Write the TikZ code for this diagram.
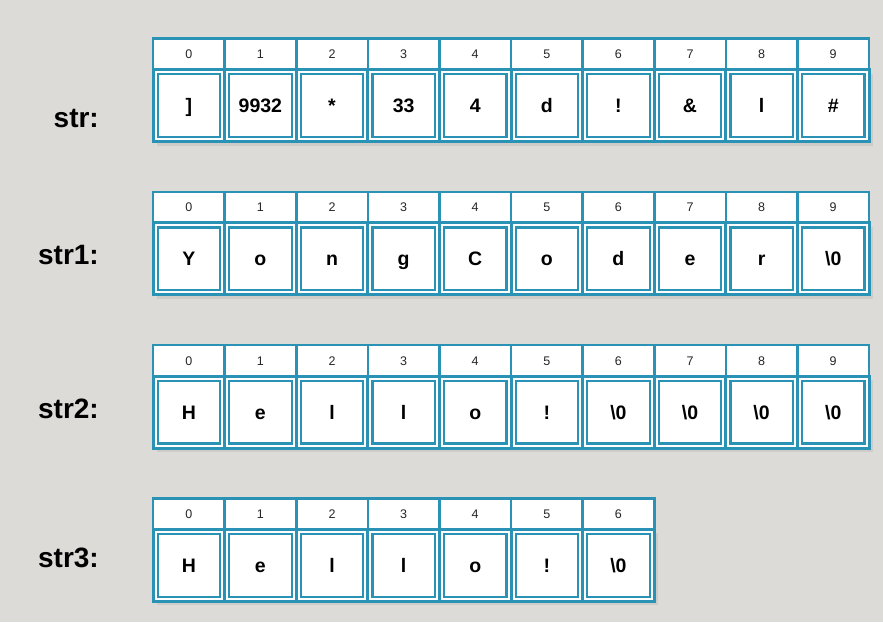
\documentclass[tikz,border=0pt]{standalone}
\usepackage{fontspec}
\setmainfont{Liberation Sans}
\usepackage{tikz}
\usetikzlibrary{positioning,shadows}
\definecolor{CTeal}{RGB}{42,146,180}
\definecolor{CPaper}{RGB}{220,219,216}

\tikzset{
  idxcell/.style={draw=CTeal, line width=2.6pt, fill=white, outer sep=0pt,
    minimum width=71.6pt, minimum height=31pt, inner sep=0pt,
    text height=9pt, text depth=0pt,
    text=black!85, font=\fontsize{12.5}{14}\selectfont},
  valcell/.style={draw=CTeal, line width=3pt, fill=white, outer sep=0pt,
    minimum width=71.6pt, minimum height=72pt, inner sep=0pt,
    text height=14pt, text depth=0pt,
    font=\fontsize{19.5}{22}\selectfont\bfseries,
    drop shadow={shadow xshift=4pt, shadow yshift=-4pt, opacity=.16}},
  valinner/.style={draw=CTeal, line width=2.2pt},
  strlabel/.style={anchor=base east, inner sep=0pt,
    font=\fontsize{28}{30}\selectfont\bfseries}
}

% #1 row, #2 top, #3 label baseline, #4 label, #5 cells
\newcommand{\strarray}[5]{%
  \node[strlabel] (lbl#1) at (99,#3) {#4};
  \foreach \val [count=\i from 0] in {#5} {
    \node[idxcell] (a#1i\i) at (188.8+71.6*\i,#2+15.5) {\i};
    \node[valcell, below=0pt of a#1i\i] (a#1v\i) {\val};
    \draw[valinner] ([shift={(4.6pt,-4.6pt)}]a#1v\i.north west)
      rectangle ([shift={(-4.6pt,4.6pt)}]a#1v\i.south east);
  }
}

\begin{document}
\begin{tikzpicture}[x=1pt, y=-1pt]
  \fill[CPaper] (0,0) rectangle (883,622);

  \strarray{0}{38.5}{127}{str:}{],9932,*,33,4,d,!,\&,l,\#}
  \strarray{1}{191.8}{264}{str1:}{Y,o,n,g,C,o,d,e,r,\textbackslash0}
  \strarray{2}{345.1}{418}{str2:}{H,e,l,l,o,!,\textbackslash0,\textbackslash0,\textbackslash0,\textbackslash0}
  \strarray{3}{498.4}{567}{str3:}{H,e,l,l,o,!,\textbackslash0}
\end{tikzpicture}
\end{document}
